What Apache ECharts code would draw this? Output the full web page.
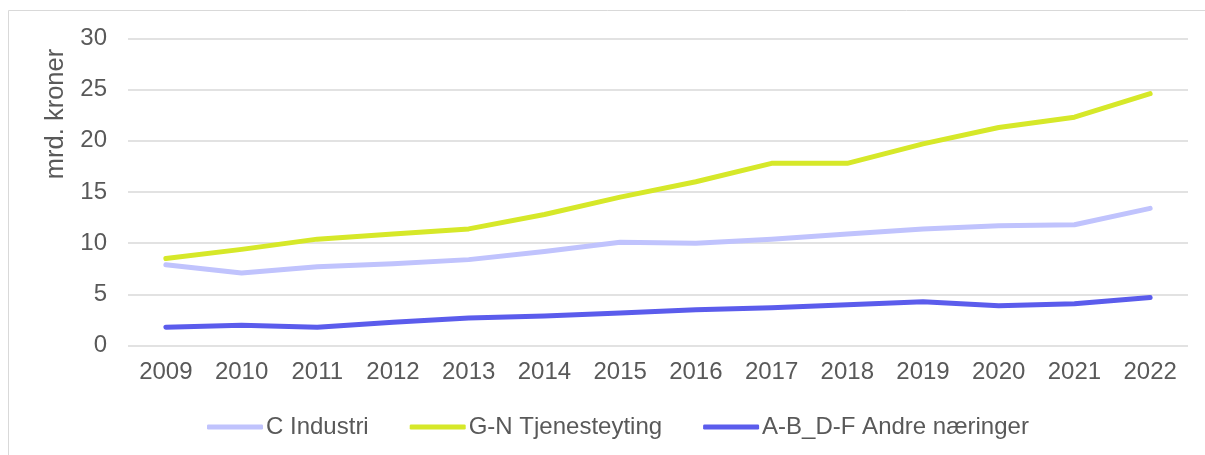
<!DOCTYPE html>
<html>
<head>
<meta charset="utf-8">
<script src="https://cdn.jsdelivr.net/npm/echarts@6/dist/echarts.min.js"></script>
<style>
html,body{margin:0;padding:0;background:#fff;}
#chart{width:1205px;height:455px;}
</style>
</head>
<body>
<div id="chart"></div>
<script>
const categories = ['2009','2010','2011','2012','2013','2014','2015','2016','2017','2018','2019','2020','2021','2022'];
const industri = [7.9, 7.1, 7.7, 8.0, 8.4, 9.2, 10.1, 10.0, 10.4, 10.9, 11.4, 11.7, 11.8, 13.4];
const tjenesteyting = [8.5, 9.4, 10.4, 10.9, 11.4, 12.8, 14.5, 16.0, 17.8, 17.8, 19.7, 21.3, 22.3, 24.6];
const andre = [1.8, 2.0, 1.8, 2.3, 2.7, 2.9, 3.2, 3.5, 3.7, 4.0, 4.3, 3.9, 4.1, 4.7];
const seriesNames = ['C Industri', 'G-N Tjenesteyting', 'A-B_D-F Andre næringer'];
const yTicks = {min: 0, max: 30, interval: 5};

const colors = ['#c0c3fd', '#d6e829', '#5b5cec'];
const textColor = '#595959';
const font = 'Liberation Sans, Arial, sans-serif';

const chart = echarts.init(document.getElementById('chart'), null, {renderer: 'canvas'});
const mkSeries = (name, data, color) => ({
  name: name,
  type: 'line',
  data: data,
  symbol: 'none',
  smooth: false,
  lineStyle: {color: color, width: 5, cap: 'round', join: 'round'},
  itemStyle: {color: color},
  emphasis: {disabled: true},
  animation: false
});
chart.setOption({
  animation: false,
  textStyle: {fontFamily: font},
  graphic: [{
    type: 'rect',
    shape: {x: 8.5, y: 10.5, width: 1300, height: 600},
    style: {fill: 'none', stroke: '#d9d9d9', lineWidth: 1},
    silent: true, z: -10
  }],
  grid: {left: 128, right: 17, top: 38.3, bottom: 455 - 345.7, containLabel: false},
  legend: {
    left: 202,
    top: 410,
    itemWidth: 56,
    itemHeight: 5,
    itemGap: 41,
    icon: 'roundRect',
    textStyle: {color: textColor, fontSize: 24, fontFamily: font, padding: [0, 0, 0, -2]},
    data: seriesNames
  },
  xAxis: {
    type: 'category',
    data: categories,
    boundaryGap: true,
    axisLine: {show: false},
    axisTick: {show: false},
    axisLabel: {color: textColor, fontSize: 24, margin: 15, fontFamily: font}
  },
  yAxis: {
    type: 'value',
    min: yTicks.min, max: yTicks.max, interval: yTicks.interval,
    name: 'mrd. kroner',
    nameLocation: 'middle',
    nameGap: 58,
    nameRotate: 90,
    nameTextStyle: {color: textColor, fontSize: 25.5, fontFamily: font, padding: [0, 0, 0, 156]},
    axisLine: {show: false},
    axisTick: {show: false},
    splitLine: {lineStyle: {color: '#d9d9d9', width: 1.5}},
    axisLabel: {color: textColor, fontSize: 24, margin: 21, fontFamily: font}
  },
  series: [
    mkSeries(seriesNames[0], industri, colors[0]),
    mkSeries(seriesNames[1], tjenesteyting, colors[1]),
    mkSeries(seriesNames[2], andre, colors[2])
  ]
});
</script>
</body>
</html>
